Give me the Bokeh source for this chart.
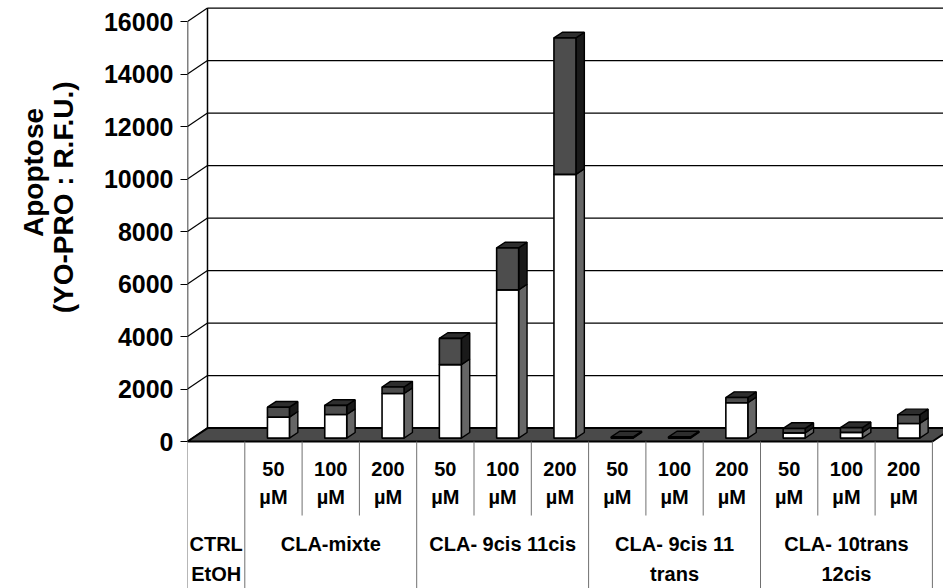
import math
from bokeh.plotting import figure
from bokeh.layouts import row
from bokeh.models import Range1d, FixedTicker
from bokeh.embed import file_html
from bokeh.resources import INLINE
from bokeh.core.properties import value

# ---------------- data ----------------
doses = ["", "50", "100", "200", "50", "100", "200", "50", "100", "200", "50", "100", "200"]
dose_units = ["", "µM", "µM", "µM", "µM", "µM", "µM", "µM", "µM", "µM", "µM", "µM", "µM"]
white_vals = [0, 800, 900, 1700, 2800, 5650, 10050, 20, 20, 1350, 200, 220, 560]
dark_vals = [0, 380, 350, 250, 1000, 1600, 5200, 30, 30, 200, 170, 180, 330]
group_line1 = ["CTRL", "CLA-mixte", "CLA- 9cis 11cis", "CLA- 9cis 11", "CLA- 10trans"]
group_line2 = ["EtOH", "", "", "trans", "12cis"]
group_sizes = [1, 3, 3, 3, 3]
y_ticks = [0, 2000, 4000, 6000, 8000, 10000, 12000, 14000, 16000]
title_lines = ["Apoptose", "(YO-PRO : R.F.U.)"]

# ---------------- geometry ----------------
N = len(doses)
COL_PX = 57.3
TITLE_W = 80
LEFT = 187
X_END = (943 - LEFT) / COL_PX
Y_MIN, Y_MAX = -5600, 16800
DX, DY = 0.349, 510          # 3D depth offset (data units)
F0, F1 = 0.25, 0.67          # bar front / back depth fractions
BW = 0.384                   # bar front width
ROW_SPLIT = -2820
ROW1_Y, ROW1B_Y = -1030, -2130
ROW2_Y, ROW2B_Y = -3890, -5030

FONT = value("Liberation Sans")

# ---- left strip holding the two-line y-axis title ----
t = figure(width=TITLE_W, height=588, x_range=Range1d(0, TITLE_W), y_range=Range1d(Y_MIN, Y_MAX),
           output_backend="svg", toolbar_location=None, x_axis_location=None, y_axis_location=None,
           min_border=0)
t.outline_line_color = None
t.grid.visible = False
t.text(x=[33, 63], y=[10250, 9300], text=title_lines, angle=math.pi / 2,
       text_font=FONT, text_font_style="bold", text_font_size="28px",
       text_align="center", text_baseline="middle", text_color="black")

# ---- main chart ----
p = figure(width=943 - TITLE_W, height=588, x_range=Range1d(0, X_END), y_range=Range1d(Y_MIN, Y_MAX),
           output_backend="svg", toolbar_location=None, x_axis_location=None,
           min_border_left=LEFT - TITLE_W, min_border_right=0, min_border_top=0, min_border_bottom=0)
p.outline_line_color = None
p.grid.visible = False
p.background_fill_color = "white"

ax = p.yaxis[0]
ax.ticker = FixedTicker(ticks=y_ticks)
ax.axis_line_color = None
ax.major_tick_in = 0
ax.major_tick_out = 7
ax.major_tick_line_color = "black"
ax.minor_tick_line_color = None
ax.major_label_standoff = 7
ax.major_label_text_font = "Liberation Sans"
ax.major_label_text_font_style = "bold"
ax.major_label_text_font_size = "25px"
ax.major_label_text_color = "black"

# walls: back gridlines, side-wall diagonals
p.segment(x0=[DX] * len(y_ticks), y0=[v + DY for v in y_ticks],
          x1=[X_END] * len(y_ticks), y1=[v + DY for v in y_ticks], line_color="black", line_width=1.2)
p.segment(x0=[0] * len(y_ticks), y0=y_ticks, x1=[DX] * len(y_ticks),
          y1=[v + DY for v in y_ticks], line_color="black", line_width=1.2)
p.segment(x0=[0, DX], y0=[0, DY], x1=[0, DX], y1=[y_ticks[-1], y_ticks[-1] + DY],
          line_color="black", line_width=1.5)

# floor
p.patch(x=[0, N, N + DX, DX], y=[0, 0, DY, DY], fill_color="#4a4a4a",
        line_color="black", line_width=2)

# bars
ox0, oy0 = F0 * DX, F0 * DY
oy1 = F1 * DY
d = (F1 - F0) * DX
wl, wr, wb, wt = [], [], [], []
dl, dr, db, dt = [], [], [], []
sw_xs, sw_ys, sd_xs, sd_ys, top_xs, top_ys = [], [], [], [], [], []
for i in range(N):
    s1, s2 = white_vals[i], dark_vals[i]
    if s1 + s2 <= 0:
        continue
    c = i + 0.5
    x0 = c - BW / 2 + ox0
    x1 = c + BW / 2 + ox0
    T = s1 + s2
    wl.append(x0); wr.append(x1); wb.append(oy0); wt.append(oy0 + s1)
    dl.append(x0); dr.append(x1); db.append(oy0 + s1); dt.append(oy0 + T)
    sw_xs.append([x1, x1 + d, x1 + d, x1]); sw_ys.append([oy0, oy1, oy1 + s1, oy0 + s1])
    sd_xs.append([x1, x1 + d, x1 + d, x1]); sd_ys.append([oy0 + s1, oy1 + s1, oy1 + T, oy0 + T])
    top_xs.append([x0, x1, x1 + d, x0 + d]); top_ys.append([oy0 + T, oy0 + T, oy1 + T, oy1 + T])

p.patches(xs=sw_xs, ys=sw_ys, fill_color="#666666", line_color="black", line_width=1.4)
p.patches(xs=sd_xs, ys=sd_ys, fill_color="#1a1a1a", line_color="black", line_width=1.4)
p.patches(xs=top_xs, ys=top_ys, fill_color="#2e2e2e", line_color="black", line_width=1.4)
p.quad(left=wl, right=wr, bottom=wb, top=wt, fill_color="white", line_color="black", line_width=1.6)
p.quad(left=dl, right=dr, bottom=db, top=dt, fill_color="#4d4d4d", line_color="black", line_width=1.6)

# data table lines
grp_bounds = [0]
for g in group_sizes:
    grp_bounds.append(grp_bounds[-1] + g)
inner = [k for k in range(1, N) if k not in grp_bounds]
p.segment(x0=grp_bounds, y0=[0] * len(grp_bounds), x1=grp_bounds, y1=[Y_MIN] * len(grp_bounds),
          line_color="#707070", line_width=1)
p.segment(x0=inner, y0=[0] * len(inner), x1=inner, y1=[ROW_SPLIT] * len(inner),
          line_color="#707070", line_width=1)

# data table texts
cx = [i + 0.5 for i in range(N)]
txt = dict(text_font=FONT, text_font_style="bold", text_font_size="20px",
           text_align="center", text_baseline="middle", text_color="black")
p.text(x=cx, y=[ROW1_Y] * N, text=doses, **txt)
p.text(x=cx, y=[ROW1B_Y] * N, text=dose_units, **txt)
gc = [(grp_bounds[k] + grp_bounds[k + 1]) / 2 for k in range(len(group_sizes))]
p.text(x=gc, y=[ROW2_Y] * len(gc), text=group_line1, **txt)
p.text(x=gc, y=[ROW2B_Y] * len(gc), text=group_line2, **txt)

layout = row(t, p, spacing=0)
open("out.html", "w").write(file_html(layout, INLINE))
